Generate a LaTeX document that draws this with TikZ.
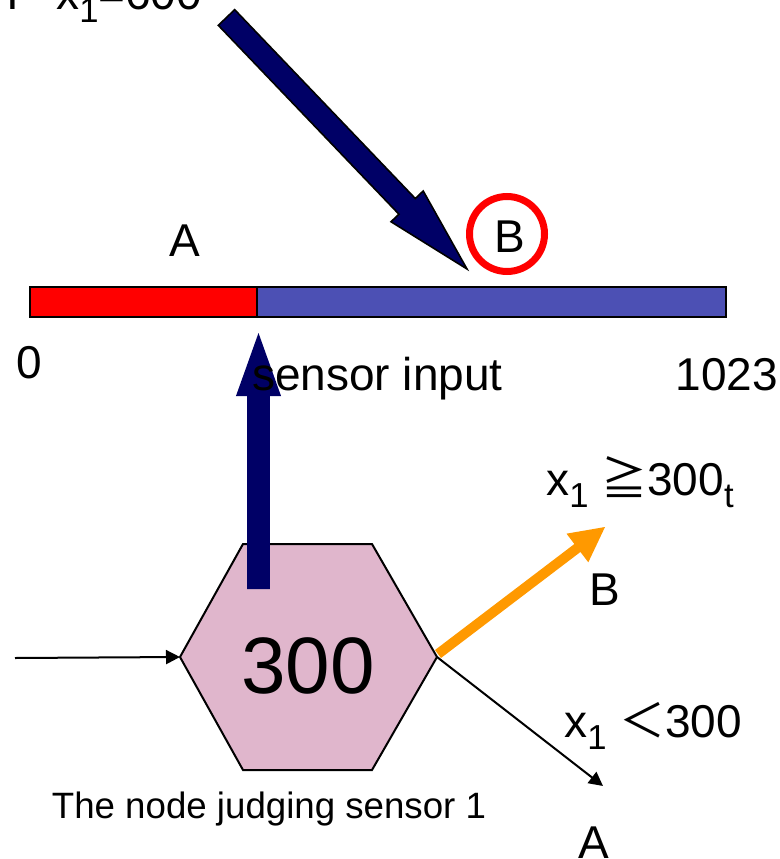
\documentclass[tikz,border=0pt]{standalone}
\usepackage{fontspec}
\setmainfont{Liberation Sans}
\newfontfamily\cjk{Noto Sans CJK JP}
\usetikzlibrary{calc,arrows.meta}
\definecolor{navyfill}{RGB}{0,0,102}
\definecolor{barred}{RGB}{255,0,0}
\definecolor{barblue}{RGB}{76,80,180}
\definecolor{hexpink}{RGB}{224,182,204}
\definecolor{arrorange}{RGB}{255,153,0}
% #1 style, #2 start, #3 end, #4 shaft half width, #5 head half width, #6 head length
\newcommand\blockarrow[6]{%
  \path ($(#3)!#6!(#2)$) coordinate (hb);
  \path[#1] ($(#2)!#4!90:(#3)$) -- ($(hb)!#4!90:(#3)$) -- ($(hb)!#5!90:(#3)$)
    -- (#3) -- ($(hb)!#5!-90:(#3)$) -- ($(hb)!#4!-90:(#3)$) -- ($(#2)!#4!-90:(#3)$) -- cycle;
}
\newcommand\subx[1]{\raisebox{-0.28em}{\fontsize{26pt}{30pt}\selectfont #1}}
\tikzset{
  lbl/.style={inner sep=0pt, font=\fontsize{34.5pt}{40pt}\selectfont},
  thinarrow/.style={line width=1.5pt, -{Triangle[length=10.5pt,width=10.5pt]}},
}
\begin{document}
\begin{tikzpicture}[x=0.75pt,y=-0.75pt]
\useasboundingbox (0,0) rectangle (779,859);
\clip (0,0) rectangle (779,859);

% top label (cut off at the top edge, as in the reference)
\node[lbl, anchor=base west] (tI) at (6,10) {I};
\node[lbl, anchor=base west] (tx600) at (56,10) {x\subx{1}=600};

% big diagonal arrow
\coordinate (dA) at (226.5,17.5);
\coordinate (dB) at (467,269);
\blockarrow{fill=navyfill, draw=black, line width=1.2pt, line join=miter}{dA}{dB}{8.5pt}{16.7pt}{65pt}

% bar
\draw[line width=1.5pt, fill=barred] (30,287) rectangle (257,317);
\draw[line width=1.5pt, fill=barblue] (257,287) rectangle (726,317);

% labels above bar
\node[lbl, anchor=base] (tA) at (185,256) {A};
\node[lbl, anchor=base] (tB) at (510,252) {B};
\draw[barred, line width=5.25pt] (507,234) circle[radius=37.5];

% hexagon
\coordinate (hexL) at (180,657);
\coordinate (hexTL) at (243,544);
\coordinate (hexTR) at (372,544);
\coordinate (hexR) at (437,657);
\coordinate (hexBR) at (372,770);
\coordinate (hexBL) at (243,770);
\draw[fill=hexpink, line width=1.5pt, line join=miter] (hexL) -- (hexTL) -- (hexTR) -- (hexR) -- (hexBR) -- (hexBL) -- cycle;
\node[inner sep=0pt, font=\fontsize{60pt}{70pt}\selectfont, anchor=base] (hex) at (308,693) {300};

% vertical arrow
\coordinate (vA) at (258.5,589);
\coordinate (vB) at (258.5,333);
\blockarrow{fill=navyfill}{vA}{vB}{8.6pt}{16.9pt}{47.25pt}

% labels under bar (drawn over the vertical arrow)
\node[lbl, anchor=base] (t0) at (29,378) {0};
\node[lbl, anchor=base] (tsens) at (377.5,390) {sensor input};
\node[lbl, anchor=base] (t1023) at (727,390) {1023};

% input arrow
\coordinate (inL) at (15,658);
\draw[thinarrow] (inL) -- (hexL);

% orange arrow
\coordinate (oA) at (438,654);
\coordinate (oB) at (605,527);
\blockarrow{fill=arrorange}{oA}{oB}{3.75pt}{13.5pt}{26pt}

% thin output arrow
\coordinate (outA) at (603,786);
\draw[thinarrow] (hexR) -- (outA);

% right labels
\node[lbl, anchor=base west] (cond1) at (546,495) {x\subx{1} {\cjk ≧}300\subx{t}};
\node[lbl, anchor=base] (rB) at (605,605) {B};
\node[lbl, anchor=base west] (cond2) at (564,737) {x\subx{1} {\cjk ＜}300};
\node[lbl, anchor=base] (rA) at (594,858) {A};

% caption
\node[inner sep=0pt, anchor=base, font=\fontsize{27.5pt}{32pt}\selectfont] (cap) at (269,818) {The node judging sensor 1};
\end{tikzpicture}
\end{document}
